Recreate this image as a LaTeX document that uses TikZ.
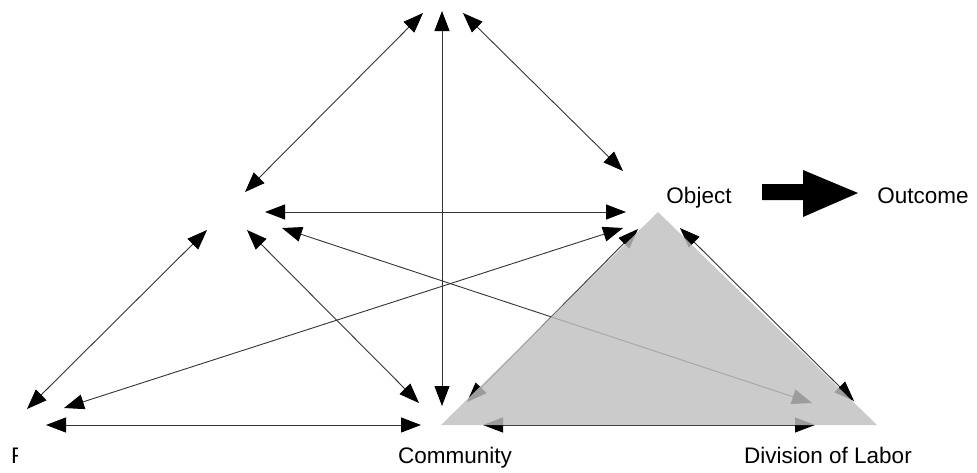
\documentclass[tikz,border=0pt]{standalone}
\usepackage{fontspec}
\setmainfont{Liberation Sans}
\usetikzlibrary{arrows.meta}
\begin{document}
\begin{tikzpicture}[x=1pt,y=-1pt,
  link/.style={draw=black!80,line width=0.9pt,
    {Triangle[length=20pt,width=15pt,color=black]}-{Triangle[length=20pt,width=15pt,color=black]}},
  lbl/.style={anchor=base,inner sep=0pt,font=\fontsize{22.5}{26}\selectfont},
  overlay tri/.style={fill=black!25,fill opacity=0.82,draw=none}]
\useasboundingbox (0,0) rectangle (977,472);
% endpoints near the (unlabelled) top and left corners
\coordinate (Ttop) at (442,11);
\coordinate (Tl) at (423,13);
\coordinate (Tr) at (463,13);
\coordinate (Sa) at (245,192);
\coordinate (Sh) at (265,212);
\coordinate (Sd) at (282,228);
\coordinate (Sc) at (247,230);
\coordinate (Sr) at (207,230);
\coordinate (Oa) at (623,171);
\coordinate (Oh) at (626,212);
\coordinate (Or) at (623,228);
\coordinate (Oc) at (638,229);
\coordinate (Od) at (680,228);
\coordinate (Rs) at (27,409);
\coordinate (Ro) at (64,408);
\coordinate (Rc) at (46,425);
\coordinate (Cv) at (442,406);
\coordinate (Cs) at (419,403);
\coordinate (Co) at (467,402);
\coordinate (Cr) at (421,425);
\coordinate (Cd) at (483,425);
\coordinate (Ds) at (812,403);
\coordinate (Do) at (854,401);
\coordinate (Dc) at (815,425);
% connectors
\draw[link] (Ttop) -- (Cv);
\draw[link] (Tl) -- (Sa);
\draw[link] (Tr) -- (Oa);
\draw[link] (Sh) -- (Oh);
\draw[link] (Sd) -- (Ds);
\draw[link] (Sc) -- (Cs);
\draw[link] (Sr) -- (Rs);
\draw[link] (Or) -- (Ro);
\draw[link] (Oc) -- (Co);
\draw[link] (Od) -- (Do);
\draw[link] (Rc) -- (Cr);
\draw[link] (Cd) -- (Dc);
% grey overlay triangle
\coordinate (g1) at (658,212);
\coordinate (g2) at (441,425);
\coordinate (g3) at (877,425);
\path[overlay tri] (g1) -- (g2) -- (g3) -- cycle;
% labels
\node[lbl] (object) at (699,203) {Object};
\node[lbl] (outcome) at (923,203) {Outcome};
\node[lbl] (community) at (455,463) {Community};
\node[lbl] (division) at (828,463) {Division of Labor};
\begin{scope}
\clip (0,440) rectangle (17,472);
\node[lbl,anchor=base west] (rules) at (11,463) {Rules};
\end{scope}
% big arrow object -> outcome
\fill[black] (762,184) -- (803,184) -- (803,170) -- (858,193) -- (803,217) -- (803,200) -- (762,200) -- cycle;
\end{tikzpicture}
\end{document}
